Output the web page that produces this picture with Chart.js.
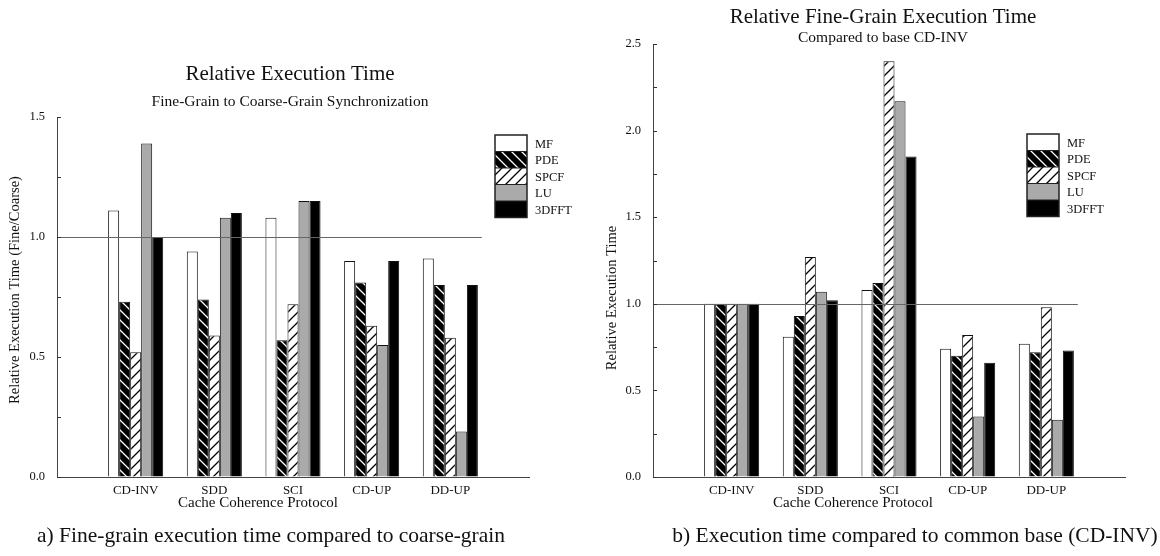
<!DOCTYPE html>
<html>
<head>
<meta charset="utf-8">
<script src="https://cdn.jsdelivr.net/npm/chart.js@4.4.0/dist/chart.umd.min.js"></script>
<style>
  body { margin: 0; background: #fff; }
  #wrap { position: relative; width: 1160px; height: 556px; overflow: hidden; }
  .panel { position: absolute; top: 0; width: 580px; height: 556px; }
  .caption {
    position: absolute; top: 523px; white-space: nowrap;
    font-family: "Liberation Serif", serif; font-size: 21.5px; color: #111;
    transform: translateX(-50%);
  }
</style>
</head>
<body>
<div id="wrap">
  <div class="panel" style="left:0"><canvas id="chart-a" width="580" height="556"></canvas></div>
  <div class="panel" style="left:580px"><canvas id="chart-b" width="580" height="556"></canvas></div>
  <div class="caption" style="left:271px">a) Fine-grain execution time compared to coarse-grain</div>
  <div class="caption" style="left:915px">b) Execution time compared to common base (CD-INV)</div>
</div>
<script>
// --- dados ---
const protocolos = ['CD-INV', 'SDD', 'SCI', 'CD-UP', 'DD-UP'];
const aplicacoes = ['MF', 'PDE', 'SPCF', 'LU', '3DFFT'];

// a) fino / grosso
const finoMF    = [1.11, 0.94, 1.08, 0.90, 0.91];
const finoPDE   = [0.73, 0.74, 0.57, 0.81, 0.80];
const finoSPCF  = [0.52, 0.59, 0.72, 0.63, 0.58];
const finoLU    = [1.39, 1.08, 1.15, 0.55, 0.19];
const finoFFT   = [1.00, 1.10, 1.15, 0.90, 0.80];

// b) relativo a CD-INV
const baseMF    = [1.00, 0.81, 1.08, 0.74, 0.77];
const basePDE   = [1.00, 0.93, 1.12, 0.70, 0.72];
const baseSPCF  = [1.00, 1.27, 2.40, 0.82, 0.98];
const baseLU    = [1.00, 1.07, 2.17, 0.35, 0.33];
const baseFFT   = [1.00, 1.02, 1.85, 0.66, 0.73];

const ticksA = [0.0, 0.5, 1.0, 1.5];
const ticksB = [0.0, 0.5, 1.0, 1.5, 2.0, 2.5];
const linhaRef = 1.0;

const FONTE = '"Liberation Serif", serif';

// === padrões de preenchimento ===
function listras(fundo, cor, sentido) {
    const s = 10;
    const c = document.createElement('canvas');
    c.width = s; c.height = s;
    const g = c.getContext('2d');
    g.fillStyle = fundo;
    g.fillRect(0, 0, s, s);
    g.strokeStyle = cor;
    g.lineWidth = 1.3;
    g.beginPath();
    if (sentido === '\\') {
        g.moveTo(-2, -2); g.lineTo(s + 2, s + 2);
        g.moveTo(-2, s - 2); g.lineTo(2, s + 2);
        g.moveTo(s - 2, -2); g.lineTo(s + 2, 2);
    } else {
        g.moveTo(-2, s + 2); g.lineTo(s + 2, -2);
        g.moveTo(-2, 2); g.lineTo(2, -2);
        g.moveTo(s - 2, s + 2); g.lineTo(s + 2, s - 2);
    }
    g.stroke();
    return g.createPattern(c, 'repeat');
}

const preenchimentos = [
    '#ffffff',
    listras('#000000', '#ffffff', '\\'),
    listras('#ffffff', '#000000', '/'),
    '#aaaaaa',
    '#000000'
];

// --- plugin: títulos, legenda, linha de referência, marcas do eixo ---
const decoracao = {
    id: 'decoracao',
    afterDraw(chart, args, o) {
        const ctx = chart.ctx;
        const x = chart.scales.x, y = chart.scales.y;
        ctx.save();

        // linha de referência em 1.0
        const yr = Math.round(y.getPixelForValue(linhaRef)) + 0.5;
        ctx.strokeStyle = '#666';
        ctx.lineWidth = 1;
        ctx.beginPath();
        ctx.moveTo(chart.chartArea.left, yr);
        ctx.lineTo(x.getPixelForValue(o.fimRef), yr);
        ctx.stroke();

        // marcas internas do eixo y
        ctx.strokeStyle = '#333';
        y.ticks.forEach(t => {
            const py = Math.round(y.getPixelForValue(t.value)) + 0.5;
            ctx.beginPath();
            ctx.moveTo(chart.chartArea.left, py);
            ctx.lineTo(chart.chartArea.left + 4, py);
            ctx.stroke();
        });

        ctx.fillStyle = '#111';
        ctx.textAlign = 'center';
        ctx.textBaseline = 'middle';
        ctx.font = '21px ' + FONTE;
        ctx.fillText(o.titulo, o.tx, o.ty);
        ctx.font = '15.5px ' + FONTE;
        ctx.fillText(o.subtitulo, o.tx, o.sy);

        ctx.font = '15px ' + FONTE;
        ctx.fillText('Cache Coherence Protocol', o.xtx, o.xty);

        ctx.save();
        ctx.translate(o.ytx, o.yty);
        ctx.rotate(-Math.PI / 2);
        ctx.font = '14.5px ' + FONTE;
        ctx.fillText(o.ytitulo, 0, 0);
        ctx.restore();

        // legenda
        const h = 16.5, w = 32;
        ctx.textAlign = 'left';
        ctx.font = '12.5px ' + FONTE;
        chart.data.datasets.forEach((ds, i) => {
            const top = o.ly + i * h;
            ctx.fillStyle = ds.backgroundColor;
            ctx.fillRect(o.lx, top, w, h);
            ctx.fillStyle = '#111';
            ctx.fillText(ds.label, o.lx + w + 8, top + h / 2 + 1);
        });
        ctx.strokeStyle = '#222';
        ctx.lineWidth = 1.5;
        ctx.strokeRect(o.lx, o.ly, w, h * aplicacoes.length);
        ctx.lineWidth = 1;
        for (let i = 1; i < aplicacoes.length; i++) {
            ctx.beginPath();
            ctx.moveTo(o.lx, o.ly + i * h);
            ctx.lineTo(o.lx + w, o.ly + i * h);
            ctx.stroke();
        }
        ctx.restore();
    }
};

function criarGrafico(id, series, yMax, rotulos, pad, deco) {
    const labels = ['', ...protocolos, ''];
    const datasets = series.map((valores, i) => ({
        label: aplicacoes[i],
        data: [null, ...valores, null],
        backgroundColor: preenchimentos[i],
        borderColor: '#111',
        borderWidth: 1,
        borderSkipped: 'start'
    }));

    return new Chart(document.getElementById(id), {
        type: 'bar',
        data: { labels, datasets },
        plugins: [decoracao],
        options: {
            responsive: false,
            animation: false,
            layout: { padding: pad },
            datasets: { bar: { categoryPercentage: 0.7, barPercentage: 1.0 } },
            plugins: {
                legend: { display: false },
                tooltip: { enabled: false },
                decoracao: deco
            },
            scales: {
                x: {
                    offset: false,
                    grid: { display: true, drawOnChartArea: false, drawTicks: false },
                    border: { color: '#444', width: 1 },
                    ticks: {
                        padding: 6, color: '#111', maxRotation: 0, autoSkip: false,
                        font: { family: FONTE, size: 13 }
                    },
                    afterFit: s => { s.height = 20; }
                },
                y: {
                    min: 0, max: yMax,
                    grid: { display: true, drawOnChartArea: false, drawTicks: false },
                    border: { color: '#444', width: 1 },
                    ticks: {
                        stepSize: 0.25, padding: 12, color: '#111',
                        font: { family: FONTE, size: 12.5 },
                        callback: v => {
                            const r = rotulos.find(t => Math.abs(t - v) < 1e-6);
                            return r === undefined ? '' : r.toFixed(1);
                        }
                    },
                    afterFit: s => { s.width = 45; }
                }
            }
        }
    });
}

criarGrafico('chart-a', [finoMF, finoPDE, finoSPCF, finoLU, finoFFT], 1.5, ticksA,
    { top: 117, left: 12, right: 51, bottom: 59 },
    {
        titulo: 'Relative Execution Time',
        subtitulo: 'Fine-Grain to Coarse-Grain Synchronization',
        tx: 290, ty: 74, sy: 102,
        ytitulo: 'Relative Execution Time (Fine/Coarse)', ytx: 15, yty: 290,
        xtx: 258, xty: 503,
        lx: 495, ly: 135, fimRef: 5.4
    });

criarGrafico('chart-b', [baseMF, basePDE, baseSPCF, baseLU, baseFFT], 2.5, ticksB,
    { top: 44, left: 28, right: 35, bottom: 59 },
    {
        titulo: 'Relative Fine-Grain Execution Time',
        subtitulo: 'Compared to base CD-INV',
        tx: 303, ty: 17, sy: 38,
        ytitulo: 'Relative Execution Time', ytx: 32, yty: 298,
        xtx: 273, xty: 503,
        lx: 447, ly: 134, fimRef: 5.4
    });
</script>
</body>
</html>
